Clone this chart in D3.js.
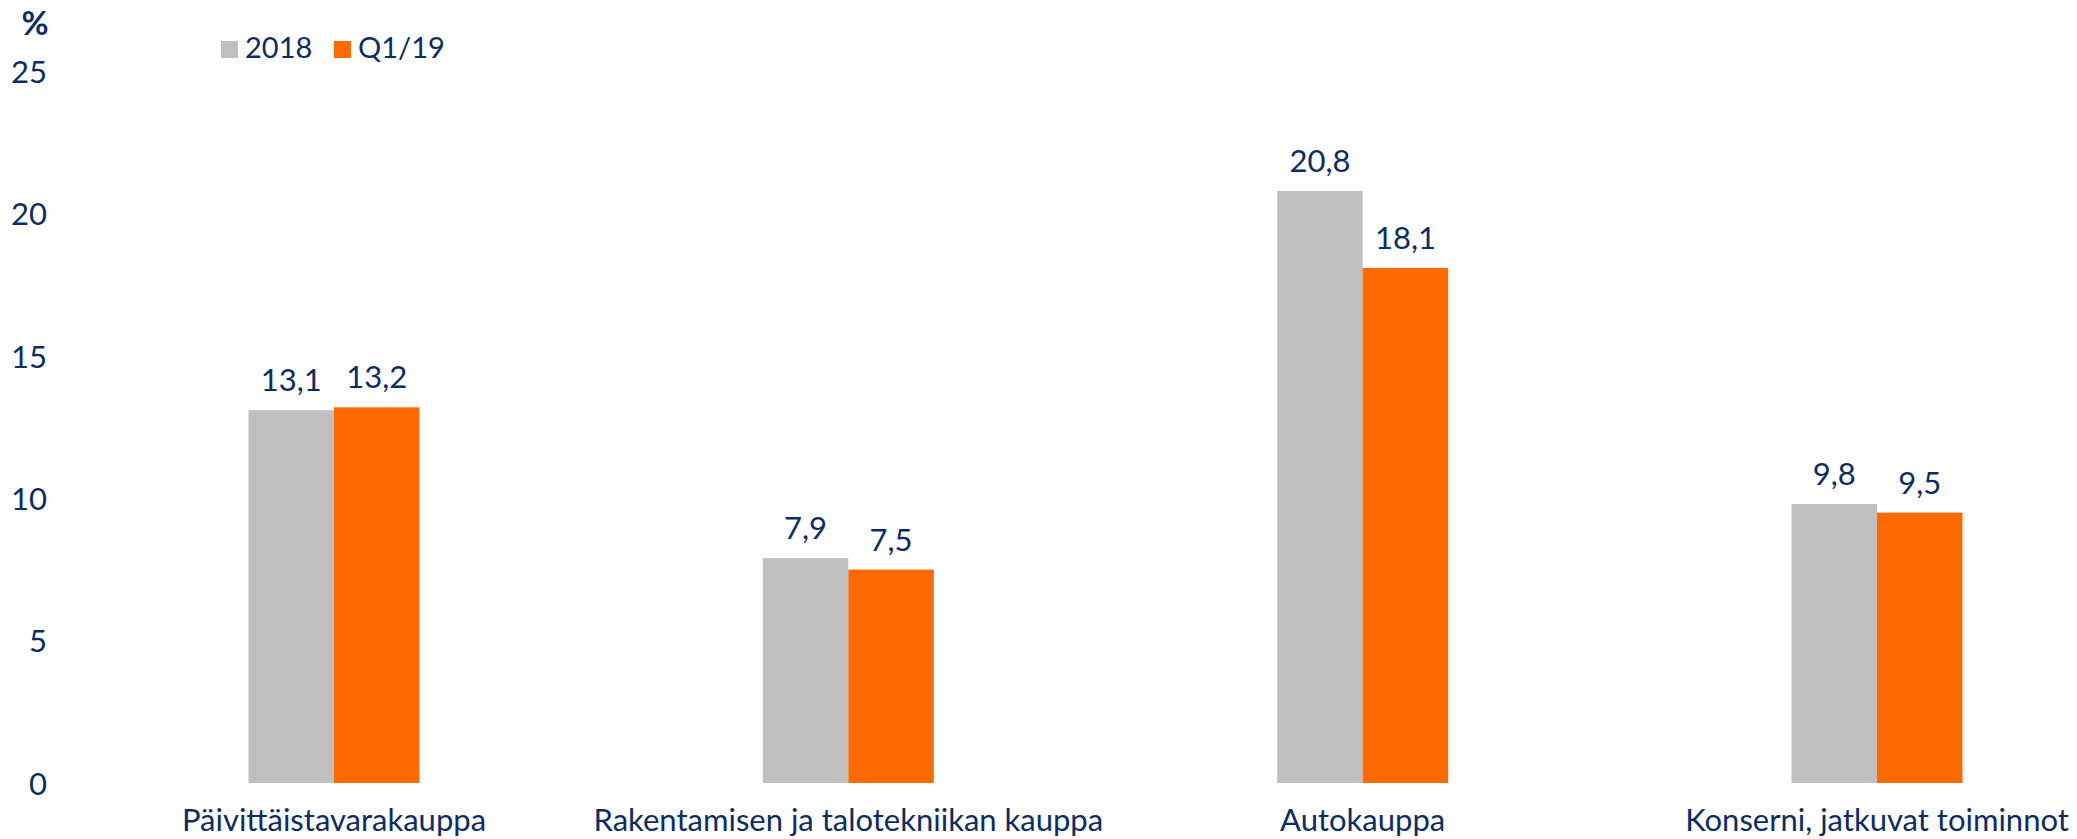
<!DOCTYPE html>
<html>
<head>
<meta charset="utf-8">
<script src="https://cdn.jsdelivr.net/npm/d3@7"></script>
<style>
  body { margin: 0; background: #fff; }
  svg text { font-family: Lato, "Open Sans", sans-serif; fill: #0b2c66; }
</style>
</head>
<body>
<svg id="chart" width="2077" height="839"></svg>
<script>
// data
const categories = ["Päivittäistavarakauppa", "Rakentamisen ja talotekniikan kauppa", "Autokauppa", "Konserni, jatkuvat toiminnot"]
const seriesNames = ["2018", "Q1/19"]
const values2018 = [13.1, 7.9, 20.8, 9.8]
const valuesQ119 = [13.2, 7.5, 18.1, 9.5]
const yTicks = [0, 5, 10, 15, 20, 25]

const colors = { "2018": "#bfbfbf", "Q1/19": "#ff6a00" }
const fmt = d3.formatLocale({ decimal: ",", thousands: " ", grouping: [3], currency: ["", ""] }).format(".1f")

const svg = d3.select("#chart")

const y = d3.scaleLinear().domain([0, 25]).range([783, 71.5])
const x = d3.scalePoint().domain(categories).range([334, 1877])
const x1 = d3.scaleBand().domain(seriesNames).range([-85.5, 85.5])

const rows = categories.map((c, i) => ({ cat: c, vals: [
    { s: "2018", v: values2018[i] },
    { s: "Q1/19", v: valuesQ119[i] }
] }))

// y axis, no line, labels only
const yAxis = d3.axisLeft(y).tickValues(yTicks).tickSize(0).tickPadding(0)
const ya = svg.append("g").attr("transform", "translate(47,0)").call(yAxis)
ya.select(".domain").remove()
ya.selectAll("text")
    .attr("font-size", 31)
    .attr("font-family", "Lato, sans-serif")
    .attr("fill", "#0b2c66")
    .attr("dy", "0.36em")

svg.append("text")
    .attr("x", 35)
    .attr("y", 35)
    .attr("text-anchor", "middle")
    .attr("font-size", 33)
    .attr("font-weight", "bold")
    .text("%")

const groups = svg.selectAll(".grp")
    .data(rows)
    .enter()
    .append("g")
    .attr("class", "grp")
    .attr("transform", d => "translate(" + x(d.cat) + ",0)")

groups.selectAll("rect")
    .data(d => d.vals)
    .enter()
    .append("rect")
    .attr("x", d => x1(d.s))
    .attr("width", x1.bandwidth())
    .attr("y", d => y(d.v))
    .attr("height", d => y(0) - y(d.v))
    .attr("fill", d => colors[d.s])

groups.selectAll(".val")
    .data(d => d.vals)
    .enter()
    .append("text")
    .attr("class", "val")
    .attr("x", d => x1(d.s) + x1.bandwidth() / 2)
    .attr("y", d => y(d.v) - 19)
    .attr("text-anchor", "middle")
    .attr("font-size", 31)
    .text(d => fmt(d.v))

groups.append("text")
    .attr("x", 0)
    .attr("y", 831)
    .attr("text-anchor", "middle")
    .attr("font-size", 31)
    .text(d => d.cat)

// legend
const legend = svg.append("g")
const lx = [221, 334]
seriesNames.forEach((s, i) => {
    legend.append("rect")
        .attr("x", lx[i]).attr("y", 41)
        .attr("width", 17).attr("height", 17)
        .attr("fill", colors[s])
    legend.append("text")
        .attr("x", lx[i] + 24).attr("y", 58)
        .attr("font-size", 29)
        .text(s)
})
</script>
</body>
</html>
